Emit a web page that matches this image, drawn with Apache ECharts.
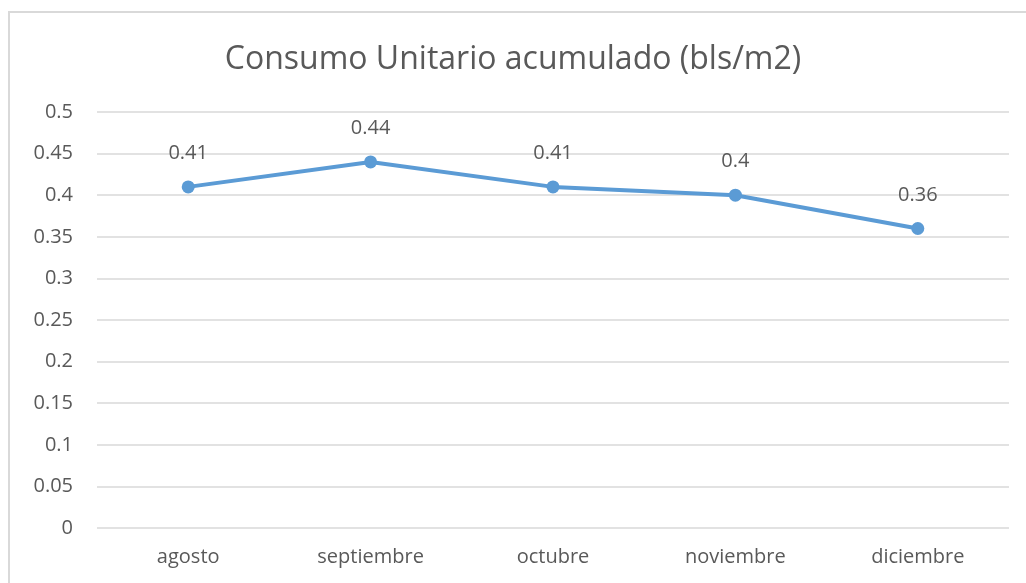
<!DOCTYPE html>
<html>
<head>
<meta charset="utf-8">
<script src="https://cdn.jsdelivr.net/npm/echarts@6/dist/echarts.min.js"></script>
<style>
  html, body { margin: 0; padding: 0; background: #fff; }
  #chart { width: 1026px; height: 583px; }
</style>
</head>
<body>
<div id="chart"></div>
<script>
const months = ['agosto', 'septiembre', 'octubre', 'noviembre', 'diciembre']
const consumo = [0.41, 0.44, 0.41, 0.4, 0.36]

const chart = echarts.init(document.getElementById('chart'))
const font = '"Open Sans", Lato, sans-serif'

chart.setOption({
  backgroundColor: '#fff',
  animation: false,
  graphic: [{
    type: 'rect',
    shape: { x: 9, y: 12, width: 1040, height: 620 },
    style: { fill: 'none', stroke: '#d9d9d9', lineWidth: 2 },
    silent: true
  }],
  title: {
    text: 'Consumo Unitario acumulado (bls/m2)',
    left: 'center',
    top: 39,
    textStyle: { color: '#595959', fontSize: 32, fontWeight: 'normal', fontFamily: font }
  },
  grid: { left: 97, right: 17, top: 112, bottom: 55 },
  xAxis: {
    type: 'category',
    data: months,
    axisLine: { show: false },
    axisTick: { show: false },
    axisLabel: { color: '#595959', fontSize: 20, fontFamily: font, margin: 19 }
  },
  yAxis: {
    type: 'value',
    min: 0,
    max: 0.5,
    interval: 0.05,
    axisLine: { show: false },
    axisTick: { show: false },
    axisLabel: {
      color: '#595959', fontSize: 20, fontFamily: font, margin: 24,
      formatter: v => String(Math.round(v * 100) / 100)
    },
    splitLine: { lineStyle: { color: '#d9d9d9', width: 1.5 } }
  },
  series: [{
    type: 'line',
    data: consumo,
    symbol: 'circle',
    symbolSize: 13,
    lineStyle: { color: '#5b9bd5', width: 4 },
    itemStyle: { color: '#5b9bd5' },
    label: {
      show: true,
      position: 'top',
      distance: 17,
      color: '#595959',
      fontSize: 20,
      fontFamily: font
    }
  }]
})
</script>
</body>
</html>
